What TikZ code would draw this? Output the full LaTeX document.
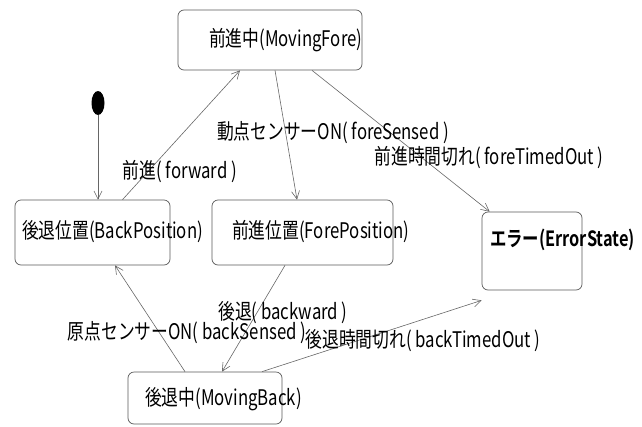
\documentclass[tikz,border=0pt]{standalone}
\usepackage{fontspec}
\newfontfamily\jp[FakeStretch=0.78]{Noto Sans CJK JP}
\newfontfamily\jpb[FakeStretch=0.78]{Noto Sans CJK JP Bold}
\usetikzlibrary{arrows.meta,shapes.geometric}
\tikzset{
  statebox/.style={draw=black!65, line width=0.7pt, rounded corners=6pt, inner sep=0pt},
  txt/.style={inner sep=0pt, font=\jp\fontsize{21.5}{21.5}\selectfont, text=black},
  conn/.style={draw=black!60, line width=0.6pt, -{Straight Barb[length=8pt,width=8pt,line width=0.6pt]}},
}
\begin{document}
\begin{tikzpicture}[x=1pt,y=-1pt]
\useasboundingbox (0,0) rectangle (642,426);
% states
\node[statebox, minimum width=184pt, minimum height=60pt] (MF) at (270,40) {};
\node[statebox, minimum width=155pt, minimum height=65pt] (BP) at (92.5,232.5) {};
\node[statebox, minimum width=181pt, minimum height=65pt] (FP) at (302.5,232.5) {};
\node[statebox, minimum width=100pt, minimum height=78pt] (ES) at (532,251) {};
\node[statebox, minimum width=154pt, minimum height=52pt] (MB) at (205,398) {};
\node[ellipse, fill=black, inner sep=0pt, minimum width=13pt, minimum height=24pt] (init) at (98,103) {};
% state texts
\node[txt, anchor=west] (tMF) at (209,40) {前進中(MovingFore)};
\node[txt, anchor=west] (tBP) at (22,232) {後退位置(BackPosition)};
\node[txt, anchor=west] (tFP) at (232,232) {前進位置(ForePosition)};
\node[txt, anchor=west, font=\jpb\fontsize{21}{21}\selectfont] (tES) at (490,240) {エラー(ErrorState)};
\node[txt, anchor=west] (tMB) at (145,399) {後退中(MovingBack)};
% transitions
\draw[conn] (init) -- (init |- BP.north);
\draw[conn] ([xshift=30pt]BP.north) -- ([xshift=-30pt]MF.south);
\draw[conn] ([xshift=5pt]MF.south) -- ([xshift=-5.5pt]FP.north);
\draw[conn] ([xshift=42pt]MF.south) -- ([xshift=8pt]ES.north west);
\draw[conn] ([xshift=-17.5pt]FP.south) -- ([xshift=17pt]MB.north);
\draw[conn] ([xshift=-20pt]MB.north) -- ([xshift=22.5pt]BP.south);
\draw[conn] ([xshift=57pt]MB.north) -- ([yshift=-10pt]ES.south west);
% labels
\node[txt] (lfw) at (180,172) {前進( forward )};
\node[txt] (lfs) at (333,133) {動点センサーON( foreSensed )};
\node[txt] (lft) at (489,158) {前進時間切れ( foreTimedOut )};
\node[txt] (lbw) at (283,313) {後退( backward )};
\node[txt] (lbs) at (187,333) {原点センサーON( backSensed )};
\node[txt] (lbt) at (423,341) {後退時間切れ( backTimedOut )};
\end{tikzpicture}
\end{document}
